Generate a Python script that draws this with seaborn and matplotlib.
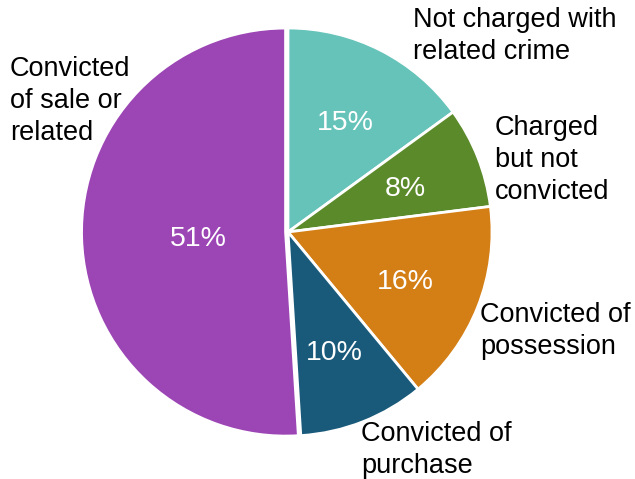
import matplotlib
matplotlib.use("Agg")
import matplotlib.pyplot as plt
import seaborn as sns

categories = ["Not charged with\nrelated crime", "Charged\nbut not\nconvicted",
              "Convicted of\npossession", "Convicted of\npurchase",
              "Convicted\nof sale or\nrelated"]
values = [15, 8, 16, 10, 51]
colors = ["#65C3B9", "#5B8A2A", "#D47F15", "#195A7A", "#9C45B5"]

sns.set_theme(style="white")
plt.rcParams["font.family"] = ["Liberation Sans", "DejaVu Sans"]

fig = plt.figure(figsize=(6.35, 4.79), dpi=100)
ax = fig.add_axes([84 / 635, 43 / 479, 408 / 635, 408 / 479])

explode = [0, 0, 0, 0, 0.012]
wedges, texts, autotexts = ax.pie(
    values, colors=colors, startangle=90, counterclock=False,
    explode=explode, autopct="%d%%", pctdistance=0.62,
    wedgeprops=dict(edgecolor="white", linewidth=2),
    textprops=dict(color="white", fontsize=20.5),
)
# nudge percentages slightly downward to match the reference
for t in autotexts:
    x, y = t.get_position()
    t.set_position((x, y - 0.018))
# the big slice's percentage sits closer to the center
autotexts[4].set_position((-0.44, -0.035))

label_pos = [(0.613, 0.96), (1.015, 0.353), (0.941, -0.485),
             (0.358, -1.07), (-1.363, 0.642)]
for lab, (x, y) in zip(categories, label_pos):
    ax.text(x, y, lab, ha="left", va="center", fontsize=19.5,
            color="black", linespacing=1.32)

ax.set_xlim(-1, 1)
ax.set_ylim(-1, 1)
ax.set_aspect("equal")
ax.axis("off")

fig.savefig("out.png", dpi=100)
